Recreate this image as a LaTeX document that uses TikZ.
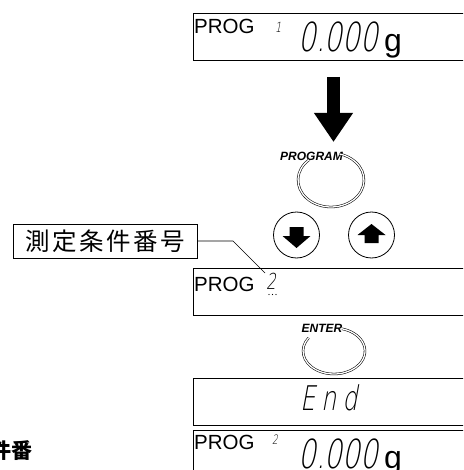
\documentclass[tikz,border=0pt]{standalone}
\usepackage{fontspec}
\usetikzlibrary{arrows.meta}
\setmainfont{Liberation Sans}
\newfontfamily\cjk{Noto Sans CJK JP}
\newfontfamily\seg{DejaVu Sans ExtraLight}[FakeSlant=0.18,FakeStretch=0.7]
\begin{document}
\begin{tikzpicture}[x=1pt,y=-1pt,
  disp/.style={draw, line width=0.9pt, minimum height=47pt, minimum width=320pt, anchor=north west, inner sep=0pt},
  progtxt/.style={font=\fontsize{20.5}{20.5}\selectfont, inner sep=0pt, anchor=base west},
  digits/.style={font=\seg\fontsize{40}{40}\selectfont, inner sep=0pt, anchor=base west},
  smalldigit/.style={font=\seg\fontsize{#1}{#1}\selectfont, inner sep=0pt, anchor=base west},
  gram/.style={font=\fontsize{32}{32}\selectfont, inner sep=0pt, anchor=base west},
  keylabel/.style={font=\bfseries\itshape\fontsize{#1}{#1}\selectfont, inner sep=0pt},
  keyloop/.style={double, double distance=1.3pt, line width=0.55pt},
  roundkey/.style={circle, draw, line width=0.8pt, minimum size=46pt, inner sep=0pt},
  labelbox/.style={draw, line width=0.8pt, minimum width=184pt, minimum height=34pt, inner sep=0pt, font=\cjk\fontsize{24.5}{24.5}\selectfont},
  bigarrow/.style={line width=13pt, -{Triangle[width=37pt,length=29pt]}}
]
\useasboundingbox (0,0) rectangle (463,470);
\clip (0,0) rectangle (463,470);

% displays
\node[disp] (d1) at (193,13) {};
\node[disp] (d2) at (193,268) {};
\node[disp] (d3) at (193,378) {};
\node[disp] (d4) at (193,430) {};

% display 1
\node[progtxt] (p1) at (194,34) {PROG};
\node[smalldigit=14] (n1) at (275,33) {1};
\node[digits] (v1) at (298,52) {0.000};
\node[gram] (g1) at (384,52) {g};

% display 2
\node[progtxt] (p2) at (194,291) {PROG};
\node[smalldigit=22] (n2) at (266,289) {2};
\foreach \dx in {269,272.5,276} \fill (\dx,294.5) circle (0.6);

% display 3
\node[font=\seg\fontsize{34}{34}\selectfont, inner sep=0pt, anchor=base west] (end) at (300,410) {E\kern6pt n\kern6pt d};

% display 4
\node[progtxt] (p4) at (194,449) {PROG};
\node[smalldigit=13] (n4) at (272,444) {2};
\node[digits] (v4) at (298,468) {0.000};
\node[gram] (g4) at (384,468) {g};

% big arrow
\coordinate (atop) at (333.5,77);
\coordinate (abot) at (333.5,142);
\draw[bigarrow] (atop) -- (abot);

% PROGRAM key
\node[keylabel=12] (pl) at (311.5,156) {PROGRAM};
\coordinate (pc) at (331,180);
\draw[keyloop] ([shift={(-132:33 and 27)}]pc) arc[start angle=-132, end angle=-435, x radius=33, y radius=27];

% arrow keys
\node[roundkey] (down) at (296.5,235) {};
\node[roundkey] (up) at (371.5,235) {};
\fill ([shift={(-7,-8)}]down.center) -- ([shift={(7,-8)}]down.center) -- ([shift={(7,1)}]down.center)
  -- ([shift={(14,1)}]down.center) -- ([shift={(0,13)}]down.center) -- ([shift={(-14,1)}]down.center)
  -- ([shift={(-7,1)}]down.center) -- cycle;
\fill ([shift={(-7,8)}]up.center) -- ([shift={(7,8)}]up.center) -- ([shift={(7,0)}]up.center)
  -- ([shift={(14,0)}]up.center) -- ([shift={(0,-11)}]up.center) -- ([shift={(-14,0)}]up.center)
  -- ([shift={(-7,0)}]up.center) -- cycle;

% ENTER key
\node[keylabel=12] (el) at (322,328.5) {ENTER};
\coordinate (ec) at (334,351);
\draw[keyloop] ([shift={(-145:31 and 23)}]ec) arc[start angle=-145, end angle=-435, x radius=31, y radius=23];

% label with leader
\node[labelbox] (lab) at (105,241) {測\kern2.5pt 定\kern2.5pt 条\kern2.5pt 件\kern2.5pt 番\kern2.5pt 号};
\coordinate (bend) at (233,241);
\coordinate (tip) at (265,273);
\draw[line width=0.7pt] (lab.east) -- (bend) -- (tip);

% cut-off text bottom left
\node[anchor=base east, inner sep=0pt, font=\cjk\bfseries\fontsize{21}{21}\selectfont] (cut) at (33,458) {件番};
\end{tikzpicture}
\end{document}
